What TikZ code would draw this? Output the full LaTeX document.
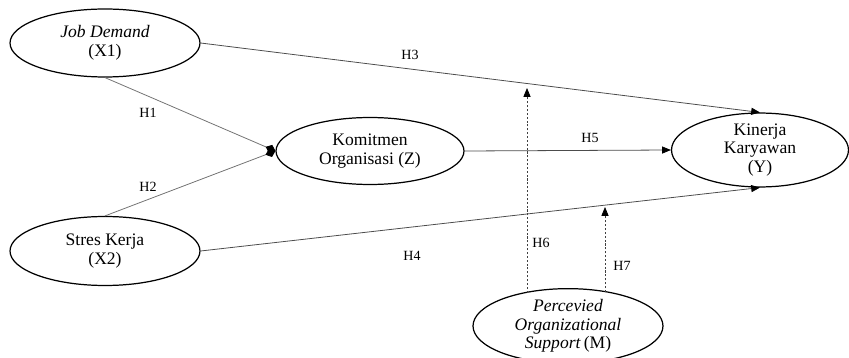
\documentclass[tikz,border=0pt]{standalone}
\usepackage{fontspec}
\setmainfont{Liberation Serif}
\usetikzlibrary{arrows.meta,shapes.geometric}

\tikzset{
  var/.style={ellipse,draw,line width=0.7pt,inner sep=0pt,align=center,
    font=\fontsize{10}{10.5}\selectfont},
  path/.style={line width=0.45pt,black!70,-{Triangle[length=5pt,width=4pt,black]}},
  tozpath/.style={line width=0.45pt,black!55,-{Diamond[length=6pt,width=5pt,black]}},
  mod/.style={line width=0.45pt,black!75,dash pattern=on 1.2pt off 1pt,
    -{Triangle[length=5pt,width=4pt,black]}},
  lbl/.style={font=\fontsize{8}{9}\selectfont,inner sep=1pt}
}

\begin{document}
\begin{tikzpicture}[x=0.02cm,y=-0.02cm]
\useasboundingbox (0,0) rectangle (849,358);
% constructs
\node[var,minimum width=3.8cm,minimum height=1.36cm] (X1) at (105,43) {\textit{Job Demand}\\(X1)};
\node[var,minimum width=3.8cm,minimum height=1.38cm] (X2) at (105,251) {Stres Kerja\\(X2)};
\node[var,minimum width=3.76cm,minimum height=1.34cm] (Z) at (370,151) {Komitmen\\Organisasi (Z)};
\node[var,minimum width=3.54cm,minimum height=1.4cm] (Y) at (760,150) {Kinerja\\Karyawan\\(Y)};
\node[var,minimum width=3.8cm,minimum height=1.3cm] (M) at (568,326) {\textit{Percevied}\\\textit{Organizational}\\\textit{Support}\,(M)};
% direct paths
\draw[tozpath] (X1.south) -- (Z.west);
\draw[tozpath] (X2.north) -- (Z.west);
\draw[path] (X1.east) -- (Y.north);
\draw[path] (X2.east) -- (Y.south);
\draw[path] (Z.east) -- (Y.west);
% moderation
\coordinate (h6end) at (527,88);
\coordinate (h7end) at (605,207);
\draw[mod] (h6end |- M.144) -- (h6end);
\draw[mod] (h7end |- M.39) -- (h7end);
% labels
\node[lbl] (h1) at (148,113) {H1};
\node[lbl] (h2) at (148,187) {H2};
\node[lbl] (h3) at (410,55) {H3};
\node[lbl] (h4) at (412,256) {H4};
\node[lbl] (h5) at (590,138) {H5};
\node[lbl] (h6) at (541,243) {H6};
\node[lbl] (h7) at (622,266) {H7};
\end{tikzpicture}
\end{document}
